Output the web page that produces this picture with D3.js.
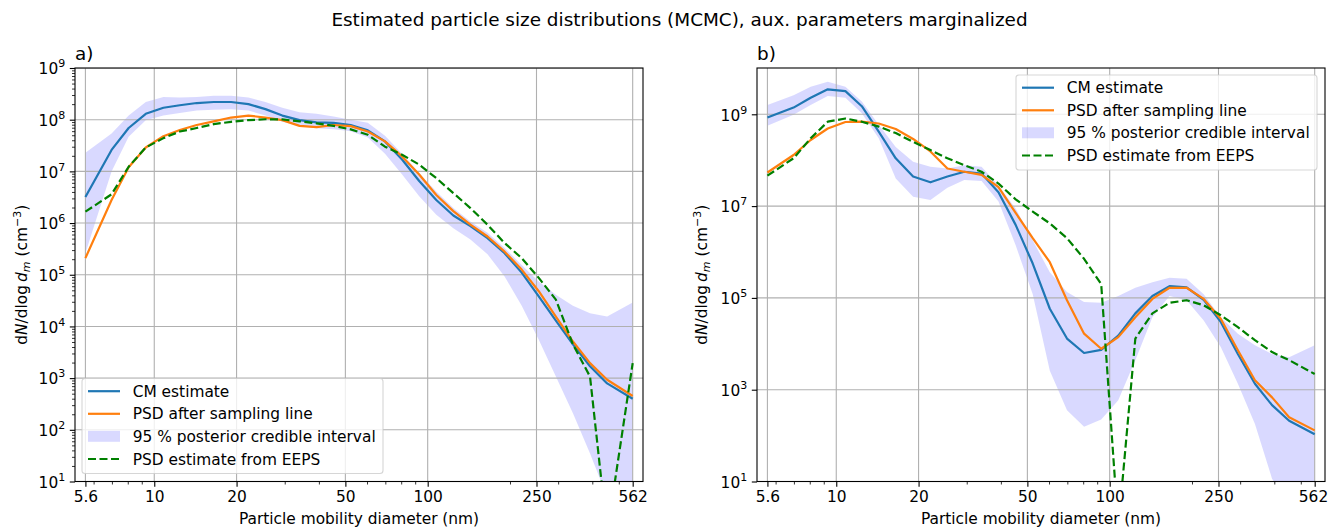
<!DOCTYPE html>
<html>
<head>
<meta charset="utf-8">
<script src="https://cdn.jsdelivr.net/npm/d3@7"></script>
<style>
  body { margin: 0; background: #fff; }
  svg { display: block; font-family: "DejaVu Sans", sans-serif; }
</style>
</head>
<body>
<svg id="chart" width="1328" height="529"></svg>
<script>
// particle mobility diameters (nm), same grid for every series
const diameters = [5.6, 6.98, 8.06, 9.31, 10.8, 12.4, 14.3, 16.5, 19.1, 22.1, 25.5, 29.4, 34.0, 39.2, 45.3, 52.3,
                   60.4, 69.8, 80.6, 93.1, 107.5, 124.1, 143.3, 165.5, 191.1, 220.7, 254.8, 294.3, 339.8, 392.4, 453.2, 562];

// panel a)
const cmA   = [3.2e6, 2.6e7, 6.9e7, 1.3e8, 1.7e8, 1.9e8, 2.1e8, 2.2e8, 2.2e8, 2.0e8, 1.6e8, 1.2e8, 9.8e7, 8.9e7, 8.7e7, 7.9e7,
               6.2e7, 3.8e7, 1.7e7, 6.5e6, 2.8e6, 1.4e6, 8.7e5, 5.1e5, 2.6e5, 1.1e5, 3.8e4, 1.3e4, 4.5e3, 1.7e3, 790, 400];
const psdA  = [2.1e5, 2.8e6, 1.2e7, 2.9e7, 4.8e7, 6.3e7, 7.9e7, 9.3e7, 1.1e8, 1.2e8, 1.1e8, 9.8e7, 7.6e7, 7.2e7, 7.9e7, 7.5e7,
               5.9e7, 3.8e7, 1.95e7, 8.7e6, 3.5e6, 1.7e6, 9.3e5, 5.5e5, 2.8e5, 1.26e5, 4.8e4, 1.55e4, 5.1e3, 1.95e3, 930, 450];
const eepsA = [1.66e6, 3.6e6, 1.23e7, 2.9e7, 4.4e7, 5.9e7, 6.9e7, 8.2e7, 9.1e7, 9.8e7, 1.02e8, 1.01e8, 9.3e7, 8.5e7, 7.6e7, 6.5e7,
               5.1e7, 3.0e7, 2.1e7, 1.35e7, 7.4e6, 3.8e6, 1.95e6, 9.3e5, 4.1e5, 2.1e5, 8.7e4, 3.3e4, 4.5e3, 1.07e3, 1, 1.95e3];
const lowA  = [2.6e5, 1.0e7, 4.7e7, 9.8e7, 1.2e8, 1.35e8, 1.5e8, 1.55e8, 1.6e8, 1.5e8, 1.2e8, 9.1e7, 7.6e7, 6.8e7, 6.5e7, 6.0e7,
               4.5e7, 2.2e7, 8.7e6, 3.3e6, 1.45e6, 7.9e5, 4.8e5, 2.5e5, 9.3e4, 2.5e4, 5.5e3, 1.07e3, 210, 35, 5, 2];
const highA = [2.3e7, 5.4e7, 1.2e8, 2.2e8, 2.75e8, 2.7e8, 2.75e8, 2.9e8, 2.9e8, 2.7e8, 2.2e8, 1.7e8, 1.4e8, 1.3e8, 1.15e8, 1.0e8,
               8.7e7, 4.9e7, 2.2e7, 9.3e6, 4.1e6, 1.95e6, 1.07e6, 6.5e5, 3.3e5, 1.55e5, 7.4e4, 4.1e4, 2.5e4, 1.8e4, 1.55e4, 2.9e4];

// panel b)
const cmB   = [8.5e8, 1.4e9, 2.3e9, 3.5e9, 3.2e9, 1.5e9, 4.2e8, 1.1e8, 4.4e7, 3.3e7, 4.4e7, 5.6e7, 5.1e7, 2.0e7, 3.9e6, 5.6e5,
               5.8e4, 1.3e4, 6.3e3, 7.4e3, 1.5e4, 4.6e4, 1.1e5, 1.8e5, 1.7e5, 9.1e4, 3.0e4, 6.0e3, 1.35e3, 460, 210, 107];
const psdB  = [5.4e7, 1.3e8, 2.75e8, 4.9e8, 6.8e8, 6.9e8, 6.3e8, 4.8e8, 2.9e8, 1.55e8, 6.6e7, 5.6e7, 4.8e7, 2.6e7, 7.1e6, 2.0e6,
               6.0e5, 8.9e4, 1.66e4, 7.8e3, 1.4e4, 3.8e4, 9.5e4, 1.66e5, 1.66e5, 9.5e4, 3.5e4, 7.2e3, 1.6e3, 680, 250, 130];
const eepsB = [4.6e7, 1.1e8, 3.0e8, 6.9e8, 8.1e8, 6.9e8, 5.4e8, 3.9e8, 2.5e8, 1.66e8, 1.1e8, 7.8e7, 5.6e7, 3.1e7, 1.4e7, 7.6e6,
               4.2e6, 2.0e6, 7.1e5, 2.0e5, 1, 1.3e4, 4.6e4, 7.8e4, 8.9e4, 6.9e4, 4.2e4, 2.3e4, 1.2e4, 6.6e3, 4.4e3, 2.2e3];
const lowB  = [5.6e8, 9.8e8, 1.6e9, 2.5e9, 2.3e9, 1.05e9, 3.0e8, 4.0e7, 1.6e7, 1.35e7, 2.5e7, 3.7e7, 3.5e7, 1.26e7, 1.4e6, 1.2e5,
               2.6e3, 355, 155, 225, 590, 4.4e3, 3.8e4, 1.1e5, 8.9e4, 3.2e4, 8.5e3, 1.35e3, 180, 11.5, 3, 2];
const highB = [1.6e9, 2.6e9, 4.0e9, 5.1e9, 4.0e9, 1.9e9, 5.9e8, 1.95e8, 9.3e7, 7.2e7, 6.6e7, 7.8e7, 7.2e7, 2.8e7, 8.9e6, 1.8e6,
               3.6e5, 1.35e5, 8.1e4, 7.8e4, 1.1e5, 1.66e5, 2.2e5, 2.75e5, 2.6e5, 1.2e5, 3.8e4, 1.66e4, 9.3e3, 6.0e3, 5.1e3, 9.3e3];

const xTicks = [5.6, 10, 20, 50, 100, 250, 562];
const xTickLabels = ["5.6", "10", "20", "50", "100", "250", "562"];
const xMinorTicks = [6, 7, 8, 9, 30, 40, 60, 70, 80, 90, 200, 300, 400, 500];
const yExpA = [1, 2, 3, 4, 5, 6, 7, 8, 9];
const yExpB = [1, 3, 5, 7, 9];
const legendLabels = ["CM estimate", "PSD after sampling line", "95 % posterior credible interval", "PSD estimate from EEPS"];

const svg = d3.select("#chart");
const W = 568, plotTop = 68, plotBottom = 481.5;
const xDomain = [5.13, 613];
const C_CM = "#1f77b4", C_PSD = "#ff7f0e", C_EEPS = "#008000";
const LW = 2.2;
const FS = 15.4;      // tick / label / legend font
const FS_TITLE = 18.4;
const TICK = 5.2;

svg.append("text")
    .attr("x", 679.5).attr("y", 26)
    .attr("text-anchor", "middle")
    .attr("font-size", FS_TITLE)
    .text("Estimated particle size distributions (MCMC), aux. parameters marginalized");

function drawPanel(p) {
    const x = d3.scaleLog().domain(xDomain).range([p.left, p.left + W]);
    const y = d3.scaleLog().domain(p.yDomain).range([plotBottom, plotTop]);
    const g = svg.append("g");

    g.append("clipPath").attr("id", p.id + "clip")
        .append("rect").attr("x", p.left).attr("y", plotTop).attr("width", W).attr("height", plotBottom - plotTop);
    const plot = g.append("g").attr("clip-path", `url(#${p.id}clip)`);

    const rows = diameters.map((d, i) => ({d: d, cm: p.cm[i], psd: p.psd[i], eeps: p.eeps[i], lo: p.lo[i], hi: p.hi[i]}));

    // credible interval band
    plot.append("path").datum(rows)
        .attr("d", d3.area().x(r => x(r.d)).y0(r => y(r.lo)).y1(r => y(r.hi)))
        .attr("fill", "rgb(0,0,255)").attr("fill-opacity", 0.15);

    // grid (drawn above the band, like matplotlib)
    plot.selectAll("line.vgrid").data(xTicks).join("line")
        .attr("x1", d => x(d)).attr("x2", d => x(d)).attr("y1", plotTop).attr("y2", plotBottom)
        .attr("stroke", "#b0b0b0").attr("stroke-width", 1.1);
    plot.selectAll("line.hgrid").data(p.yExp).join("line")
        .attr("x1", p.left).attr("x2", p.left + W)
        .attr("y1", d => y(Math.pow(10, d))).attr("y2", d => y(Math.pow(10, d)))
        .attr("stroke", "#b0b0b0").attr("stroke-width", 1.1);

    const series = [
        {key: "cm", color: C_CM, dash: null},
        {key: "psd", color: C_PSD, dash: null},
        {key: "eeps", color: C_EEPS, dash: "8,3.5"}
    ];
    series.forEach(s => {
        plot.append("path").datum(rows)
            .attr("d", d3.line().x(r => x(r.d)).y(r => y(r[s.key])))
            .attr("fill", "none").attr("stroke", s.color).attr("stroke-width", LW)
            .attr("stroke-linejoin", "round")
            .attr("stroke-dasharray", s.dash);
    });

    // x axis
    const xa = g.append("g").attr("transform", `translate(0,${plotBottom})`)
        .call(d3.axisBottom(x).tickValues(xTicks).tickFormat((d, i) => xTickLabels[i]).tickSize(TICK).tickPadding(4.6));
    xa.call(a => a.select(".domain").remove());
    xa.selectAll("line").attr("stroke", "#000").attr("stroke-width", 1.1);
    xa.selectAll("text").attr("font-size", FS).attr("font-family", "DejaVu Sans").attr("fill", "#000");
    // keep the last label inside the page edge
    xa.selectAll("text").filter((d, i) => i === xTicks.length - 1 && p.left + W > 1300)
        .attr("x", 13).attr("text-anchor", "end");
    g.append("g").attr("transform", `translate(0,${plotBottom})`)
        .call(d3.axisBottom(x).tickValues(xMinorTicks).tickFormat("").tickSize(3))
        .call(a => a.select(".domain").remove())
        .selectAll("line").attr("stroke", "#000").attr("stroke-width", 0.8);

    // y axis
    const ya = g.append("g").attr("transform", `translate(${p.left},0)`)
        .call(d3.axisLeft(y).tickValues(p.yExp.map(e => Math.pow(10, e))).tickFormat("").tickSize(TICK));
    ya.call(a => a.select(".domain").remove());
    ya.selectAll("line").attr("stroke", "#000").attr("stroke-width", 1.1);
    if (p.minorY) {
        const minor = [];
        for (let e = 1; e < 9; e++) for (let m = 2; m <= 9; m++) minor.push(m * Math.pow(10, e));
        g.append("g").attr("transform", `translate(${p.left},0)`)
            .call(d3.axisLeft(y).tickValues(minor).tickFormat("").tickSize(3))
            .call(a => a.select(".domain").remove())
            .selectAll("line").attr("stroke", "#000").attr("stroke-width", 0.8);
    }
    p.yExp.forEach(e => {
        const t = g.append("text")
            .attr("x", p.left - 9.8).attr("y", y(Math.pow(10, e)) + 6.3)
            .attr("text-anchor", "end").attr("font-size", FS);
        t.append("tspan").text("10");
        t.append("tspan").attr("font-size", 11).attr("dy", -7).text(e);
    });

    // spines
    g.append("rect").attr("x", p.left).attr("y", plotTop).attr("width", W).attr("height", plotBottom - plotTop)
        .attr("fill", "none").attr("stroke", "#000").attr("stroke-width", 1.1);

    // panel letter
    g.append("text").attr("x", p.left).attr("y", 59.5).attr("font-size", FS_TITLE).text(p.letter);

    // axis labels
    g.append("text").attr("x", p.left + W / 2).attr("y", 524)
        .attr("text-anchor", "middle").attr("font-size", FS)
        .text("Particle mobility diameter (nm)");
    const yl = g.append("text")
        .attr("transform", `translate(${p.ylabelX},${(plotTop + plotBottom) / 2}) rotate(-90)`)
        .attr("text-anchor", "middle").attr("font-size", FS);
    yl.append("tspan").text("d");
    yl.append("tspan").attr("font-style", "italic").text("N");
    yl.append("tspan").text("/dlog\u2009");
    yl.append("tspan").attr("font-style", "italic").text("d");
    yl.append("tspan").attr("font-style", "italic").attr("font-size", 11).attr("dy", 3).text("m");
    yl.append("tspan").attr("dy", -3).text(" (cm");
    yl.append("tspan").attr("font-size", 11).attr("dy", -6.5).text("\u22123");
    yl.append("tspan").attr("dy", 6.5).text(")");

    // legend
    const lg = g.append("g").attr("transform", `translate(${p.legX},${p.legY})`);
    lg.append("rect").attr("width", 301).attr("height", 95).attr("rx", 3)
        .attr("fill", "#fff").attr("fill-opacity", 0.8)
        .attr("stroke", "#cccccc").attr("stroke-opacity", 0.8).attr("stroke-width", 1.1);
    const rowY = [12.7, 35.3, 57.8, 80.5];
    legendLabels.forEach((lab, i) => {
        const cy = rowY[i];
        if (i === 2) {
            lg.append("rect").attr("x", 6).attr("y", cy - 5.5).attr("width", 32).attr("height", 11)
                .attr("fill", "rgb(0,0,255)").attr("fill-opacity", 0.15);
        } else {
            const col = [C_CM, C_PSD, null, C_EEPS][i];
            lg.append("line").attr("x1", 6).attr("x2", 38).attr("y1", cy).attr("y2", cy)
                .attr("stroke", col).attr("stroke-width", LW)
                .attr("stroke-dasharray", i === 3 ? "8,3.5" : null);
        }
        lg.append("text").attr("x", 50.7).attr("y", cy + 5.5).attr("font-size", FS).text(lab);
    });
}

drawPanel({id: "a", letter: "a)", left: 75, yDomain: [10, 1e9], yExp: yExpA, minorY: true,
           cm: cmA, psd: psdA, eeps: eepsA, lo: lowA, hi: highA,
           ylabelX: 27, legX: 82, legY: 378.5});
drawPanel({id: "b", letter: "b)", left: 757, yDomain: [10, 1.02e10], yExp: yExpB, minorY: false,
           cm: cmB, psd: psdB, eeps: eepsB, lo: lowB, hi: highB,
           ylabelX: 707, legX: 1016, legY: 75});
</script>
</body>
</html>
